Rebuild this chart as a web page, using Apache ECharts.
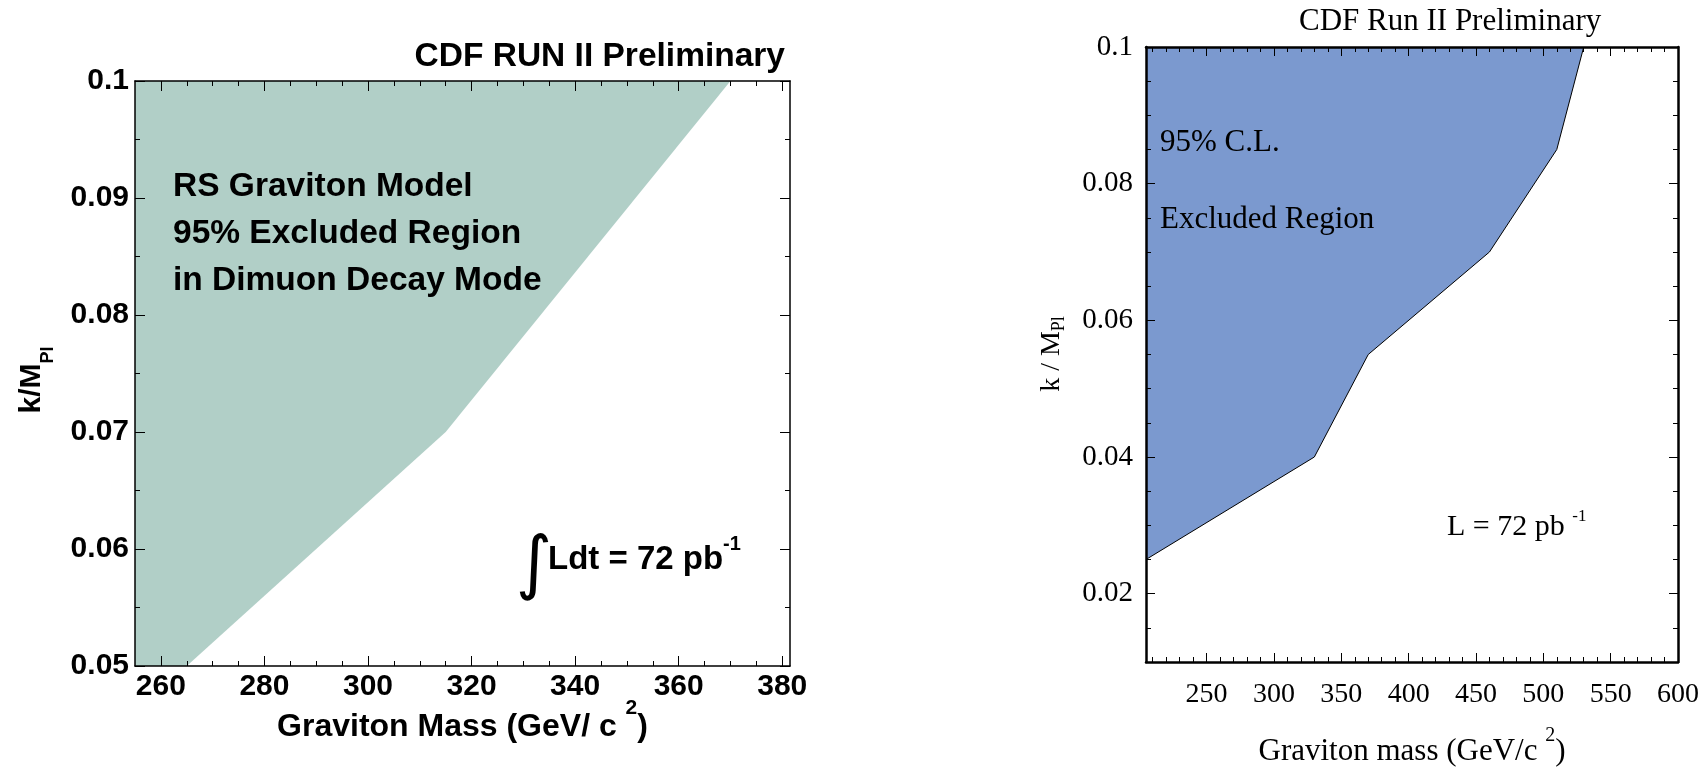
<!DOCTYPE html>
<html>
<head>
<meta charset="utf-8">
<script src="https://cdn.jsdelivr.net/npm/echarts@6/dist/echarts.min.js"></script>
<style>
  html, body { margin: 0; padding: 0; background: #fff; }
  #chart { width: 1708px; height: 771px; }
</style>
</head>
<body>
<div id="chart"></div>
<script>
// left panel: dimuon channel exclusion (x = graviton mass, y = k/M_Pl)
var leftMass = [255, 265, 315, 370];
var leftCoupling = [0.05, 0.05, 0.07, 0.1];
var leftXLabels = [260, 280, 300, 320, 340, 360, 380];
var leftXMinor = [260, 265, 270, 275, 280, 285, 290, 295, 300, 305, 310, 315, 320,
                  325, 330, 335, 340, 345, 350, 355, 360, 365, 370, 375, 380];

// right panel: combined exclusion
var rightMass = [205, 330, 370, 460, 510, 530];
var rightCoupling = [0.025, 0.04, 0.055, 0.07, 0.085, 0.1];
var rightXLabels = [250, 300, 350, 400, 450, 500, 550, 600];
var rightXMinor = [210, 220, 230, 240, 250, 260, 270, 280, 290, 300, 310, 320, 330,
                   340, 350, 360, 370, 380, 390, 400, 410, 420, 430, 440, 450, 460,
                   470, 480, 490, 500, 510, 520, 530, 540, 550, 560, 570, 580, 590];
var rightYLabels = [0.02, 0.04, 0.06, 0.08, 0.1];
var rightYMinor = [0.015, 0.02, 0.025, 0.03, 0.035, 0.04, 0.045, 0.05, 0.055, 0.06,
                   0.065, 0.07, 0.075, 0.08, 0.085, 0.09, 0.095];

var SANS = 'Liberation Sans';
var SERIF = 'Liberation Serif';

function zip(xs, ys) {
  return xs.map(function (x, i) { return [x, ys[i]]; });
}

// value axis whose ticks sit at given values; label only on the main one
function tickAxis(grid, pos, min, max, values, len, lineW, label) {
  return {
    type: 'value', gridIndex: grid, position: pos, min: min, max: max, z: 10,
    splitLine: { show: false },
    axisLine: { show: lineW > 0, onZero: false, lineStyle: { color: '#000', width: lineW } },
    axisTick: { show: true, inside: true, length: len, customValues: values,
                lineStyle: { color: '#000', width: 1 } },
    axisLabel: label ? Object.assign({ customValues: values, color: '#000' }, label) : { show: false }
  };
}

var leftXLab = { fontFamily: SANS, fontWeight: 'bold', fontSize: 30, margin: 6 };
var rightXLab = { fontFamily: SERIF, fontSize: 28, margin: 19 };
var rightYLab = { fontFamily: SERIF, fontSize: 29, margin: 13 };

var leftY = function (pos, withLabel) {
  return {
    type: 'value', gridIndex: 0, position: pos, min: 0.05, max: 0.1, interval: 0.01, z: 10,
    splitLine: { show: false },
    axisLine: { show: true, onZero: false, lineStyle: { color: '#000', width: 1.5 } },
    axisTick: { show: true, inside: true, length: 10, lineStyle: { color: '#000', width: 1 } },
    minorTick: { show: true, splitNumber: 2, length: 5, lineStyle: { color: '#000', width: 1 } },
    axisLabel: withLabel ? { color: '#000', fontFamily: SANS, fontWeight: 'bold', fontSize: 30, margin: 6 }
                         : { show: false }
  };
};

var chart = echarts.init(document.getElementById('chart'));

var option = {
  animation: false,
  backgroundColor: '#fff',
  grid: [
    { left: 135, top: 81, width: 655, height: 585, outerBoundsMode: 'none' },
    { left: 1146, top: 47, width: 532, height: 615, outerBoundsMode: 'none' }
  ],
  xAxis: [
    tickAxis(0, 'bottom', 255, 381.5, leftXLabels, 10, 1.5, leftXLab),
    tickAxis(0, 'bottom', 255, 381.5, leftXMinor, 5, 0, null),
    tickAxis(0, 'top', 255, 381.5, leftXLabels, 10, 1.5, null),
    tickAxis(0, 'top', 255, 381.5, leftXMinor, 5, 0, null),
    tickAxis(1, 'bottom', 205, 600, rightXLabels, 9, 2.5, rightXLab),
    tickAxis(1, 'bottom', 205, 600, rightXMinor, 5, 0, null),
    tickAxis(1, 'top', 205, 600, rightXLabels, 9, 2.5, null),
    tickAxis(1, 'top', 205, 600, rightXMinor, 5, 0, null)
  ],
  yAxis: [
    leftY('left', true),
    leftY('right', false),
    tickAxis(1, 'left', 0.01, 0.1, rightYLabels, 9, 2.5, rightYLab),
    tickAxis(1, 'left', 0.01, 0.1, rightYMinor, 5, 0, null),
    tickAxis(1, 'right', 0.01, 0.1, rightYLabels, 9, 2.5, null),
    tickAxis(1, 'right', 0.01, 0.1, rightYMinor, 5, 0, null)
  ],
  series: [
    {
      type: 'line', xAxisIndex: 0, yAxisIndex: 0, z: 2, silent: true,
      data: zip(leftMass, leftCoupling),
      symbol: 'none',
      lineStyle: { width: 0, opacity: 0 },
      areaStyle: { color: '#b1cfc7', opacity: 1, origin: 'end' }
    },
    {
      type: 'line', xAxisIndex: 4, yAxisIndex: 2, z: 2, silent: true,
      data: zip(rightMass, rightCoupling),
      symbol: 'none',
      lineStyle: { width: 1, color: '#000' },
      areaStyle: { color: '#7b99cf', opacity: 1, origin: 'end' }
    }
  ],
  graphic: [
    // left panel texts
    { type: 'text', z: 100, x: 785, y: 56.4, style: { text: 'CDF RUN II Preliminary', fontFamily: SANS,
      fontWeight: 'bold', fontSize: 33.5, fill: '#000', align: 'right', verticalAlign: 'middle' } },
    { type: 'text', z: 100, x: 173, y: 233.4, style: {
      text: 'RS Graviton Model\n95% Excluded Region\nin Dimuon Decay Mode', fontFamily: SANS,
      fontWeight: 'bold', fontSize: 33.5, lineHeight: 47, fill: '#000', align: 'left', verticalAlign: 'middle' } },
    { type: 'text', z: 100, x: 534, y: 568, style: { text: '\u222B', fontFamily: 'DejaVu Sans',
      fontSize: 70, fill: '#000', align: 'center', verticalAlign: 'middle' } },
    { type: 'text', z: 100, x: 548, y: 534, style: {
      text: '{m|Ldt = 72 pb}{s|-1}', align: 'left', verticalAlign: 'top', fill: '#000',
      rich: {
        m: { fontFamily: SANS, fontWeight: 'bold', fontSize: 33, verticalAlign: 'bottom' },
        s: { fontFamily: SANS, fontWeight: 'bold', fontSize: 20, verticalAlign: 'top', padding: [0, 0, 22, 0] }
      } } },
    { type: 'text', z: 100, x: 462.5, y: 698, style: {
      text: '{m|Graviton Mass (GeV/ c }{s|2}{m|)}', align: 'center', verticalAlign: 'top', fill: '#000',
      rich: {
        m: { fontFamily: SANS, fontWeight: 'bold', fontSize: 32, verticalAlign: 'bottom' },
        s: { fontFamily: SANS, fontWeight: 'bold', fontSize: 21, verticalAlign: 'top', padding: [0, 0, 24, 0] }
      } } },
    { type: 'text', z: 100, x: 37, y: 380, rotation: Math.PI / 2, style: {
      text: '{m|k/M}{s|Pl}', align: 'center', verticalAlign: 'middle', fill: '#000',
      rich: {
        m: { fontFamily: SANS, fontWeight: 'bold', fontSize: 30, verticalAlign: 'top' },
        s: { fontFamily: SANS, fontWeight: 'bold', fontSize: 18, verticalAlign: 'bottom', padding: [22, 0, 0, 0] }
      } } },

    // right panel texts
    { type: 'text', z: 100, x: 1299, y: 22.2, style: { text: 'CDF Run II Preliminary', fontFamily: SERIF,
      fontSize: 31, fill: '#000', align: 'left', verticalAlign: 'middle' } },
    { type: 'text', z: 100, x: 1160, y: 142.8, style: { text: '95% C.L.', fontFamily: SERIF,
      fontSize: 31, fill: '#000', align: 'left', verticalAlign: 'middle' } },
    { type: 'text', z: 100, x: 1160, y: 220.2, style: { text: 'Excluded Region', fontFamily: SERIF,
      fontSize: 31, fill: '#000', align: 'left', verticalAlign: 'middle' } },
    { type: 'text', z: 100, x: 1447, y: 508, style: {
      text: '{m|L = 72 pb }{s|-1}', align: 'left', verticalAlign: 'top', fill: '#000',
      rich: {
        m: { fontFamily: SERIF, fontSize: 30, verticalAlign: 'bottom' },
        s: { fontFamily: SERIF, fontSize: 17, verticalAlign: 'top', padding: [0, 0, 17, 0] }
      } } },
    { type: 'text', z: 100, x: 1412, y: 725.7, style: {
      text: '{m|Graviton mass (GeV/c }{s|2}{m|)}', align: 'center', verticalAlign: 'top', fill: '#000',
      rich: {
        m: { fontFamily: SERIF, fontSize: 31, verticalAlign: 'bottom' },
        s: { fontFamily: SERIF, fontSize: 20, verticalAlign: 'top', padding: [0, 0, 22, 0] }
      } } },
    { type: 'text', z: 100, x: 1053, y: 354, rotation: Math.PI / 2, style: {
      text: '{m|k / M}{s|Pl}', align: 'center', verticalAlign: 'middle', fill: '#000',
      rich: {
        m: { fontFamily: SERIF, fontSize: 28, verticalAlign: 'top' },
        s: { fontFamily: SERIF, fontSize: 18, verticalAlign: 'bottom', padding: [12, 0, 0, 0] }
      } } }
  ]
};

chart.setOption(option);
</script>
</body>
</html>
